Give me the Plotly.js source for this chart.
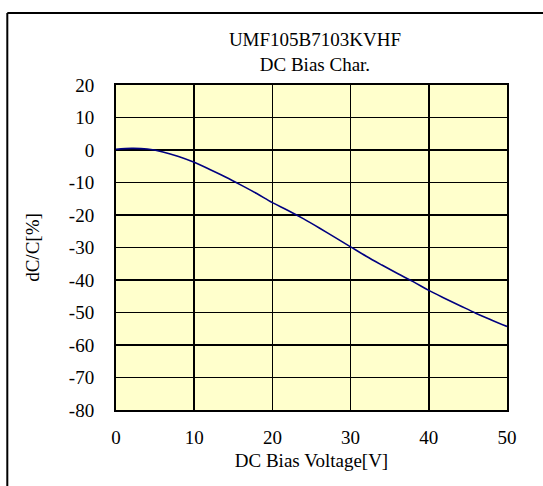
<!DOCTYPE html>
<html>
<head>
<meta charset="utf-8">
<script src="https://cdn.plot.ly/plotly-3.0.1.min.js"></script>
<style>html,body{margin:0;padding:0;background:#fff;}#chart{width:543px;height:486px;}</style>
</head>
<body>
<div id="chart"></div>
<script>
const voltage = [0,2,4,6,8,10,12,14,16,18,20,22,24,26,28,30,32,34,36,38,40,42,44,46,48,50];
const dcRatio = [0.2,0.5,0.3,-0.6,-2.0,-3.8,-6.0,-8.3,-10.8,-13.4,-16.2,-18.6,-21.2,-24.0,-26.9,-29.8,-32.7,-35.4,-38.0,-40.5,-43.2,-45.6,-47.9,-50.2,-52.3,-54.3];
const xTickVals = [0,10,20,30,40,50];
const xTickLabels = ["0","10","20","30","40","50"];
const yTickVals = [20,10,0,-10,-20,-30,-40,-50,-60,-70,-80];
const yTickLabels = ["20","10","0","-10","-20","-30","-40","-50","-60","-70","-80"];
const titleLines = ["UMF105B7103KVHF", "DC Bias Char."];
const xTitle = "DC Bias Voltage[V]";
const yTitle = "dC/C[%]";

const tickFont = {family: "Liberation Serif", size: 19, color: "#000"};
const labelFont = {family: "Liberation Serif", size: 19, color: "#000"};

const trace = {
  x: voltage, y: dcRatio, type: "scatter", mode: "lines",
  line: {color: "#000080", width: 1.6, shape: "spline"},
  hoverinfo: "none"
};

const layout = {
  width: 543, height: 486,
  margin: {l: 116, r: 36, t: 85, b: 76},
  paper_bgcolor: "#ffffff",
  plot_bgcolor: "#FFFFCC",
  showlegend: false,
  font: labelFont,
  title: {text: titleLines.join("<br>"), font: labelFont,
          xref: "container", yref: "container",
          x: 0.58, xanchor: "center", y: 0.905, yanchor: "top"},
  xaxis: {
    range: [0, 50], tickmode: "array", tickvals: xTickVals, ticktext: xTickLabels,
    showgrid: true, gridcolor: "#000", gridwidth: 1.5,
    showline: true, linecolor: "#000", linewidth: 2, mirror: true,
    ticks: "", ticklabelstandoff: 9, zeroline: false,
    tickfont: tickFont,
    title: {text: xTitle, font: labelFont, standoff: 7}
  },
  yaxis: {
    range: [-80, 20], tickmode: "array", tickvals: yTickVals, ticktext: yTickLabels,
    showgrid: true, gridcolor: "#000", gridwidth: 1.5,
    showline: true, linecolor: "#000", linewidth: 2, mirror: true,
    ticks: "", ticklabelstandoff: 16, zeroline: false,
    tickfont: tickFont,
    title: {text: yTitle, font: labelFont, standoff: 24}
  },
  shapes: [
    {type: "line", xref: "paper", yref: "paper", x0: -0.278, x1: -0.278, y0: 1.2215, y1: -0.3, line: {color: "#000", width: 2}},
    {type: "line", xref: "paper", yref: "paper", x0: -0.278, x1: 1.2, y0: 1.2215, y1: 1.2215, line: {color: "#000", width: 2}}
  ]
};

Plotly.newPlot("chart", [trace], layout, {staticPlot: true, displayModeBar: false});
</script>
</body>
</html>
